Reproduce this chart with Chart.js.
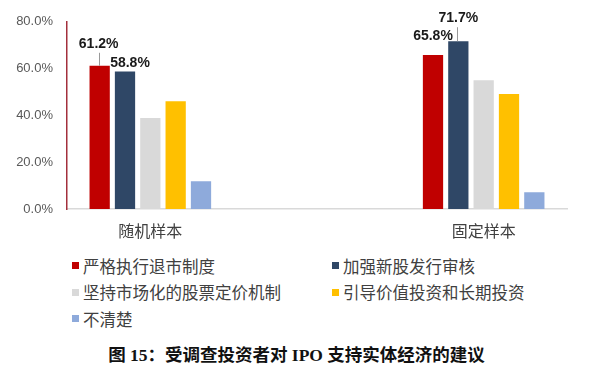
<!DOCTYPE html>
<html>
<head>
<meta charset="utf-8">
<script src="https://cdn.jsdelivr.net/npm/chart.js@4/dist/chart.umd.min.js"></script>
<style>
  body { margin: 0; background: #fff; width: 593px; height: 372px; position: relative; overflow: hidden; }
  #chartBox { position: absolute; left: 0; top: 0; width: 593px; height: 245px; }
  #legend { position: absolute; left: 72px; top: 254px; display: grid; grid-template-columns: 260px 240px; row-gap: 3.5px;
            font: 16.5px "Noto Sans CJK SC", sans-serif; color: #404040; }
  #legend div { display: flex; align-items: center; height: 23px; white-space: nowrap; }
  #legend span { display: inline-block; width: 7px; height: 7px; margin-right: 4px; }
  #title { position: absolute; left: 0; width: 593px; top: 341px; text-align: center;
           font: bold 17.5px "Liberation Serif", "Noto Sans CJK SC", serif; color: #111; }
</style>
</head>
<body>
<div id="chartBox"><canvas id="chart"></canvas></div>
<div id="legend"></div>
<div id="title">图 15：受调查投资者对 IPO 支持实体经济的建议</div>
<script>
// --- 数据 ---
const categories = ['随机样本', '', '固定样本'];
const seriesNames = ['严格执行退市制度', '加强新股发行审核', '坚持市场化的股票定价机制', '引导价值投资和长期投资', '不清楚'];
const seriesColors = ['#c00000', '#2f4766', '#d9d9d9', '#ffc000', '#8eaadb'];
const strictDelisting = [61.2, null, 65.8];
const ipoReview = [58.8, null, 71.7];
const marketPricing = [38.9, null, 55.0];
const valueInvesting = [46.1, null, 49.1];
const notSure = [11.9, null, 7.2];
const yTicks = [0, 20, 40, 60, 80];

const seriesValues = [strictDelisting, ipoReview, marketPricing, valueInvesting, notSure];

// 只给前两个系列标注数值
const labelPlacement = {
    '0-0': { dx: -1, dy: -22, leader: true },
    '1-0': { dx: 5, dy: -8 },
    '0-2': { dx: 0, dy: -19 },
    '1-2': { dx: 0, dy: -23, leader: true }
};

const valueLabels = {
    id: 'valueLabels',
    afterDatasetsDraw(chart) {
        const ctx = chart.ctx;
        ctx.save();
        ctx.font = 'bold 14px "Liberation Sans", Arial, sans-serif';
        ctx.fillStyle = '#1a1a1a';
        ctx.textAlign = 'center';
        ctx.textBaseline = 'middle';
        Object.keys(labelPlacement).forEach(key => {
            const [di, i] = key.split('-').map(Number);
            const bar = chart.getDatasetMeta(di).data[i];
            const p = labelPlacement[key];
            const x = bar.x + p.dx;
            const y = bar.y + p.dy;
            if (p.leader) {
                ctx.strokeStyle = '#999';
                ctx.lineWidth = 1;
                ctx.beginPath();
                ctx.moveTo(Math.round(bar.x) - 0.5, bar.y);
                ctx.lineTo(Math.round(bar.x) - 0.5, y + 9);
                ctx.stroke();
            }
            ctx.fillText(seriesValues[di][i].toFixed(1) + '%', x, y);
        });
        ctx.restore();
    }
};

new Chart(document.getElementById('chart'), {
    type: 'bar',
    data: {
        labels: categories,
        datasets: seriesNames.map((name, k) => ({
            label: name,
            data: seriesValues[k],
            backgroundColor: seriesColors[k],
            barPercentage: 0.8,
            categoryPercentage: 0.76
        }))
    },
    options: {
        responsive: true,
        maintainAspectRatio: false,
        animation: false,
        layout: { padding: { top: 20, right: 26, left: 0, bottom: 0 } },
        plugins: { legend: { display: false }, tooltip: { enabled: false } },
        scales: {
            x: {
                grid: { display: false, drawTicks: false },
                border: { color: '#d9d9d9', width: 1.5 },
                ticks: { color: '#404040', padding: 12, font: { size: 16, family: '"Noto Sans CJK SC", sans-serif' } },
                afterFit: s => { s.height = 36; }
            },
            y: {
                min: 0,
                max: 80,
                grid: { display: false, drawTicks: false },
                border: { color: '#a3303c', width: 1.5 },
                afterBuildTicks: s => { s.ticks = yTicks.map(v => ({ value: v })); },
                ticks: {
                    color: '#595959',
                    padding: 14,
                    font: { size: 13, family: '"Liberation Sans", Arial, sans-serif' },
                    callback: v => v.toFixed(1) + '%'
                },
                afterFit: s => { s.width = 67; }
            }
        }
    },
    plugins: [valueLabels]
});

// --- 图例（两列）---
const legend = document.getElementById('legend');
seriesNames.forEach((name, k) => {
    const item = document.createElement('div');
    item.innerHTML = `<span style="background:${seriesColors[k]}"></span>${name}`;
    legend.appendChild(item);
});
</script>
</body>
</html>
